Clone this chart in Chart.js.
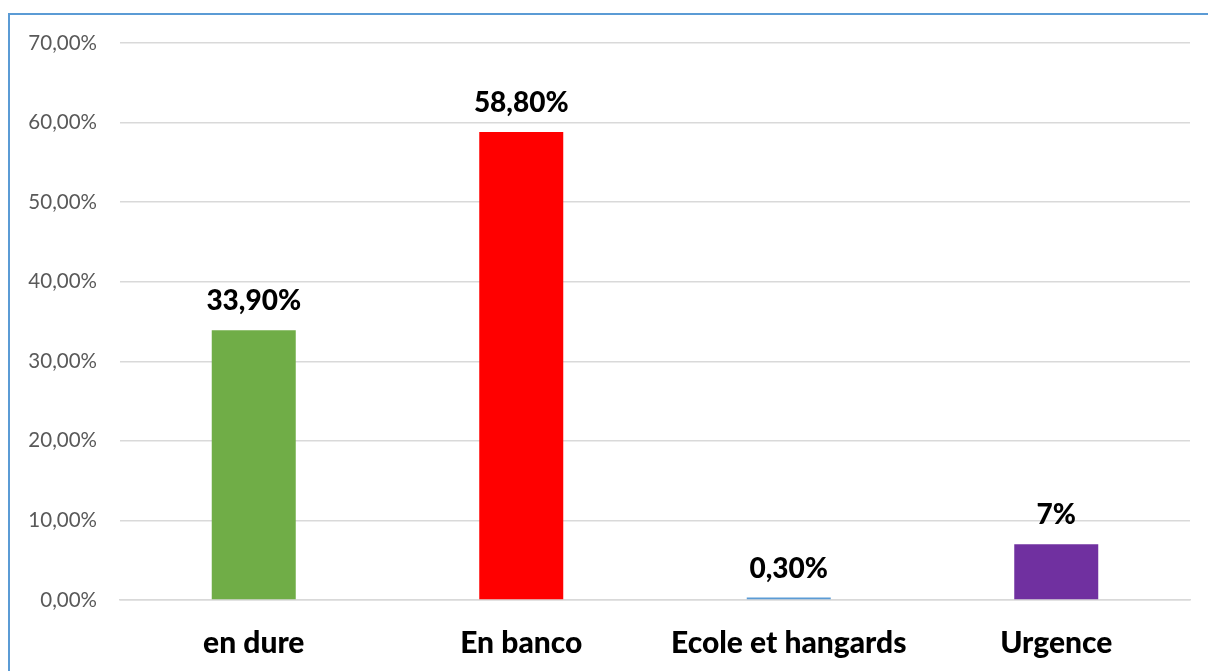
<!DOCTYPE html>
<html>
<head>
<meta charset="utf-8">
<script src="https://cdn.jsdelivr.net/npm/chart.js@4"></script>
<style>
  html, body { margin: 0; padding: 0; background: #fff; overflow: hidden; }
  #wrap { position: relative; width: 1208px; height: 671px; }
  #frame {
    position: absolute; left: 8px; top: 13px; width: 1220px; height: 700px;
    border-left: 2px solid #5B9BD5; border-top: 2px solid #5B9BD5;
    pointer-events: none;
  }
</style>
</head>
<body>
<div id="wrap">
  <canvas id="typeChart"></canvas>
  <div id="frame"></div>
</div>
<script>
// Types de salles de classe
const categories = ['en dure', 'En banco', 'Ecole et hangards', 'Urgence'];
const values = [33.9, 58.8, 0.3, 7];
const valueLabels = ['33,90%', '58,80%', '0,30%', '7%'];
const barColors = ['#70AD47', '#FF0000', '#5B9BD5', '#7030A0'];
const yTicks = [0, 10, 20, 30, 40, 50, 60, 70];

// etiquettes au-dessus des barres
const barLabels = {
    id: 'barLabels',
    afterDatasetsDraw(chart) {
        const ctx = chart.ctx;
        const meta = chart.getDatasetMeta(0);
        ctx.save();
        ctx.font = '900 28px Lato';
        ctx.fillStyle = '#000';
        ctx.textAlign = 'center';
        ctx.textBaseline = 'alphabetic';
        meta.data.forEach((bar, i) => {
            ctx.fillText(valueLabels[i], bar.x, bar.y - 20);
        });
        ctx.restore();
    }
};

const ctx = document.getElementById('typeChart');

new Chart(ctx, {
    type: 'bar',
    data: {
        labels: categories,
        datasets: [{
            data: values,
            backgroundColor: barColors,
            borderWidth: 0,
            barPercentage: 0.314,
            categoryPercentage: 1
        }]
    },
    options: {
        responsive: true,
        maintainAspectRatio: false,
        animation: false,
        layout: {
            padding: { left: 0, right: 18, top: 43, bottom: 0 }
        },
        plugins: {
            legend: { display: false },
            tooltip: { enabled: false }
        },
        scales: {
            y: {
                min: 0,
                max: 70,
                afterFit(scale) { scale.width = 120; },
                afterBuildTicks(scale) {
                    scale.ticks = yTicks.map(v => ({ value: v }));
                },
                border: { display: false },
                grid: {
                    color: '#D9D9D9',
                    lineWidth: 1.5,
                    drawTicks: false
                },
                ticks: {
                    padding: 23,
                    color: '#595959',
                    font: { family: 'Lato', size: 20.5 },
                    callback: v => v.toFixed(2).replace('.', ',') + '%'
                }
            },
            x: {
                afterFit(scale) { scale.height = 71; },
                border: { color: '#D9D9D9', width: 1.5 },
                grid: { display: false, drawTicks: false },
                ticks: {
                    padding: 25,
                    color: '#000',
                    font: { family: 'Lato', size: 30, weight: '900' }
                }
            }
        }
    },
    plugins: [barLabels]
});
</script>
</body>
</html>
